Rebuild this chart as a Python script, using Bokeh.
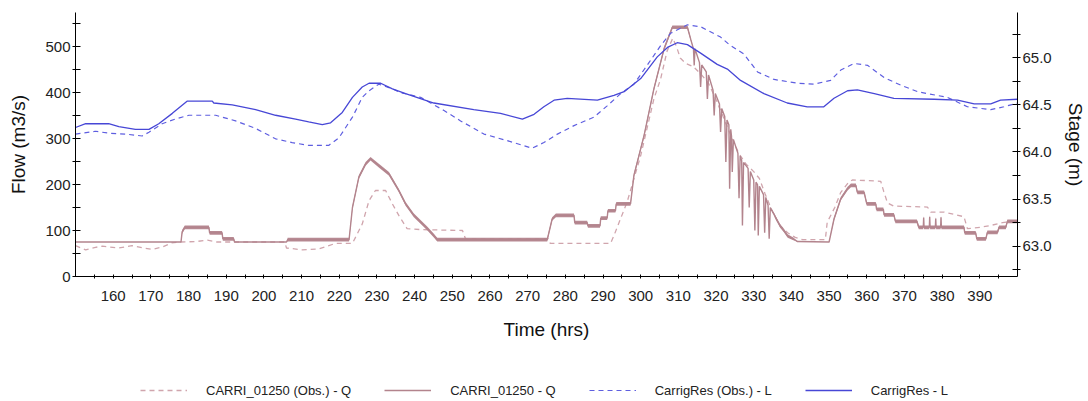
from bokeh.plotting import figure
from bokeh.layouts import column
from bokeh.models import (Range1d, LinearAxis, FixedTicker, Legend, LegendItem,
                          NumeralTickFormatter)
from bokeh.embed import file_html
from bokeh.resources import INLINE

# ---------------- data ----------------
# CARRI_01250 (Obs.) - Q   [m3/s]
obs_q_time = [150, 152.7, 155.0, 157.1, 161.5, 165.0, 168.0, 170.4, 173.0, 175.5, 178.0, 182.0,
              185.0, 187.5, 205.5, 206.0, 210.2, 214.6, 219.0, 223.5, 226.1, 227.9, 229.6, 232.3,
              234.1, 235.8, 238.0, 241.6, 252.7, 253.5, 275.5, 276.0, 292.0, 292.9, 296.4, 300.0,
              303.5, 305.3, 307.0, 308.5, 309.5, 310.5, 312.0, 314.0, 316.0, 318.0, 320.0, 322.0,
              324.0, 326.0, 328.0, 330.0, 331.5, 333.0, 335.0, 337.0, 339.0, 341.0, 343.0, 349.0,
              349.5, 351.5, 353.1, 355.0, 356.2, 363.7, 364.5, 365.5, 367.2, 376.1, 377.0, 380.5,
              385.8, 386.7, 390.2, 392.9, 396.0, 400.0]
obs_q_flow = [67, 58, 63, 66, 62, 67, 62, 59, 64, 73, 75, 76,
              79, 75, 75, 62, 58, 60, 72, 72, 114, 165, 187, 187,
              158, 133, 104, 102, 100, 82, 82, 72, 72, 89, 162, 263,
              386, 430, 490, 518, 500, 475, 463, 456, 440, 420, 385, 345,
              305, 268, 244, 228, 213, 180, 140, 110, 95, 85, 80, 80,
              118, 150, 183, 203, 210, 207, 185, 160, 153, 151, 140, 140,
              130, 104, 107, 111, 117, 122]

# CARRI_01250 - Q   [m3/s]  (sim_q_osc = half-range of the model's rapid oscillation)
sim_q_time = [150, 178.0, 178.3, 179.0, 185.4, 185.6, 188.9, 189.1, 192.0, 192.2, 206.0, 206.3,
              222.6, 223.5, 225.2, 227.0, 228.3, 230.5, 233.2, 235.8, 237.6, 239.8, 243.4, 245.1,
              246.0, 275.2, 276.5, 277.5, 282.3, 282.5, 285.8, 286.0, 289.2, 289.4, 291.1, 291.3,
              293.3, 293.5, 297.3, 298.2, 300.9, 303.5, 306.2, 308.4, 312.4, 313.3,
              314.0, 314.2, 314.4, 315.6, 315.9, 316.2, 317.4, 317.7, 318.0, 319.2, 319.5, 319.8,
              320.9, 321.2, 321.5, 322.3, 322.6, 322.9, 323.4, 323.6, 323.9, 324.1, 324.3, 324.6,
              325.8, 326.1, 326.4, 326.8, 327.0, 327.3, 328.5, 328.8, 329.1, 330.0, 330.3, 330.6,
              331.0, 331.2, 331.5, 332.6, 332.9, 333.2, 333.8, 334.1, 334.4, 335.4,
              336.0, 337.0, 338.0, 339.0, 340.5, 341.6, 350.0, 351.3, 353.1, 354.9, 355.8, 357.1,
              357.5, 359.3, 360.0, 362.4, 362.6, 364.4, 364.6, 367.2, 367.6, 373.3, 373.8,
              375.0, 375.1, 375.2, 376.6, 376.7, 376.8, 378.2, 378.3, 378.4, 379.6, 379.7, 379.8,
              385.8, 386.0, 388.9, 389.2, 391.6, 392.0, 394.7, 395.1, 396.9, 397.3, 400.0]
sim_q_flow = [75, 75, 97, 107, 107, 95, 95, 82, 82, 75, 75, 80,
              80, 150, 216, 245, 256, 241, 223, 187, 158, 133, 104, 89,
              80, 80, 125, 133, 133, 117, 117, 110, 110, 127, 127, 143,
              143, 158, 158, 220, 307, 408, 495, 542, 542, 515,
              495, 459, 495, 465, 412, 460, 445, 386, 438, 405, 350, 398,
              375, 314, 365, 348, 249, 340, 330, 191, 320, 305, 227, 298,
              268, 170, 262, 252, 111, 248, 235, 150, 228, 210, 100, 205,
              200, 89, 196, 178, 95, 172, 155, 82, 150, 135,
              125, 110, 100, 88, 82, 76, 75, 125, 169, 191, 198, 198,
              183, 183, 158, 158, 146, 146, 134, 134, 120, 120, 107,
              107, 128, 107, 107, 130, 107, 107, 126, 107, 107, 129, 107,
              107, 95, 95, 82, 82, 96, 96, 107, 107, 120, 120]
sim_q_osc = [0, 0, 4, 4, 4, 4, 4, 4, 4, 0, 0, 4,
             4, 4, 4, 4, 4, 4, 4, 4, 4, 4, 4, 4,
             4, 4, 4, 4, 4, 4, 4, 4, 4, 4, 4, 4,
             4, 4, 4, 4, 4, 4, 4, 4, 4, 3,
             0, 0, 0, 0, 0, 0, 0, 0, 0, 0, 0, 0,
             0, 0, 0, 0, 0, 0, 0, 0, 0, 0, 0, 0,
             0, 0, 0, 0, 0, 0, 0, 0, 0, 0, 0, 0,
             0, 0, 0, 0, 0, 0, 0, 0, 0, 3,
             4, 4, 4, 4, 3, 0, 0, 4, 4, 4, 4, 4,
             4, 4, 4, 4, 4, 4, 4, 4, 4, 4, 4,
             4, 4, 4, 4, 4, 4, 4, 4, 4, 4, 4, 4,
             4, 4, 4, 4, 4, 4, 4, 4, 4, 4, 4]

# CarrigRes (Obs.) - L   [m]
obs_l_time = [150, 155.3, 158.8, 163.3, 167.7, 169.5, 173.0, 176.5, 180.1, 187.2, 192.5, 197.8,
              203.1, 207.5, 211.9, 217.2, 219.9, 223.5, 226.1, 227.9, 230.5, 234.1, 236.3, 241.6,
              247.8, 252.2, 258.4, 264.6, 271.2, 274.3, 277.9, 282.3, 287.6, 291.1, 294.7, 298.2,
              301.7, 305.3, 307.9, 312.4, 315.9, 321.2, 323.5, 327.4, 331.0, 335.4, 341.6, 346.0,
              350.4, 353.1, 356.6, 360.2, 364.6, 369.0, 373.5, 381.4, 386.7, 392.9, 396.4, 400.0]
obs_l_stage = [64.19, 64.22, 64.20, 64.19, 64.17, 64.21, 64.30, 64.35, 64.39, 64.39, 64.33, 64.25,
               64.14, 64.10, 64.07, 64.07, 64.15, 64.37, 64.58, 64.65, 64.72, 64.67, 64.63, 64.58,
               64.44, 64.33, 64.19, 64.12, 64.04, 64.10, 64.19, 64.28, 64.37, 64.49, 64.62, 64.72,
               64.92, 65.13, 65.26, 65.35, 65.33, 65.22, 65.14, 65.04, 64.85, 64.77, 64.73, 64.72,
               64.76, 64.87, 64.94, 64.92, 64.79, 64.71, 64.64, 64.58, 64.48, 64.45, 64.48, 64.52]

# CarrigRes - L   [m]
sim_l_time = [150, 152.7, 158.8, 161.5, 165.9, 169.5, 172.1, 175.7, 179.6, 186.3, 186.7, 191.6,
              197.8, 203.1, 208.4, 211.9, 215.5, 217.7, 220.8, 223.5, 226.1, 227.9, 231.0, 234.1,
              237.6, 245.1, 255.7, 262.8, 268.6, 271.7, 274.3, 277.0, 280.5, 288.5, 292.9, 295.6,
              300.0, 304.4, 307.1, 309.7, 312.4, 315.9, 320.3, 323.0, 326.5, 332.7, 338.9, 344.2,
              348.6, 351.3, 354.9, 357.5, 362.0, 367.2, 377.9, 384.1, 388.5, 392.9, 395.5, 400.0]
sim_l_stage = [64.26, 64.30, 64.30, 64.27, 64.24, 64.24, 64.30, 64.41, 64.54, 64.54, 64.52, 64.50,
               64.45, 64.39, 64.35, 64.32, 64.29, 64.31, 64.42, 64.58, 64.69, 64.73, 64.73, 64.67,
               64.62, 64.52, 64.45, 64.41, 64.35, 64.40, 64.48, 64.55, 64.57, 64.55, 64.60, 64.64,
               64.78, 65.01, 65.11, 65.16, 65.14, 65.05, 64.93, 64.88, 64.76, 64.62, 64.52, 64.48,
               64.48, 64.57, 64.65, 64.66, 64.62, 64.57, 64.56, 64.55, 64.51, 64.51, 64.55, 64.56]

series_labels = ["CARRI_01250 (Obs.) - Q", "CARRI_01250 - Q",
                 "CarrigRes (Obs.) - L", "CarrigRes - L"]
time_ticks = list(range(160, 400, 10))
flow_ticks = [0, 100, 200, 300, 400, 500]
stage_ticks = [63.0, 63.5, 64.0, 64.5, 65.0]

# ---------------- styles ----------------
FONT = "Liberation Sans"
BLUE = "#4747d6"
BLUE_D = "#5e5ee0"
PINK = "#b3848d"
PINK_D = "#d0a5ad"
styles = [dict(line_color=PINK_D, line_width=1.3, line_dash="5 4"),
          dict(line_color=PINK, line_width=1.4),
          dict(line_color=BLUE_D, line_width=1.2, line_dash="5 4"),
          dict(line_color=BLUE, line_width=1.3)]

# ---------------- main chart ----------------
p = figure(width=1088, height=346, output_backend="svg", toolbar_location=None,
           x_range=Range1d(150, 400), y_range=Range1d(0, 574),
           min_border_left=75, min_border_right=70, min_border_top=12, min_border_bottom=70)
p.extra_y_ranges = {"stage": Range1d(62.678, 65.481)}
p.outline_line_color = None
p.grid.visible = False

p.line(obs_q_time, obs_q_flow, **styles[0])
lo = [q - a for q, a in zip(sim_q_flow, sim_q_osc)]
hi = [q + a for q, a in zip(sim_q_flow, sim_q_osc)]
p.varea(x=sim_q_time, y1=lo, y2=hi, fill_color=PINK, fill_alpha=0.95)
p.line(sim_q_time, sim_q_flow, **styles[1])
p.line(obs_l_time, obs_l_stage, y_range_name="stage", **styles[2])
p.line(sim_l_time, sim_l_stage, y_range_name="stage", **styles[3])

right = LinearAxis(y_range_name="stage")
p.add_layout(right, "right")

xa = p.xaxis[0]
ya = p.yaxis[0]
for ax in (xa, ya, right):
    ax.axis_line_color = "black"
    ax.axis_line_width = 1
    ax.major_tick_line_color = "black"
    ax.minor_tick_line_color = "black"
    ax.major_label_text_font = FONT
    ax.major_label_text_font_size = "15px"
    ax.major_label_text_color = "#222222"
    ax.axis_label_text_font = FONT
    ax.axis_label_text_font_size = "19px"
    ax.axis_label_text_font_style = "normal"
    ax.axis_label_text_color = "#111111"

xa.ticker = FixedTicker(ticks=time_ticks,
                        minor_ticks=[t + 5 for t in [150] + time_ticks])
xa.axis_label = "Time (hrs)"
xa.major_tick_in = 2
xa.major_tick_out = 2
xa.minor_tick_in = 2
xa.minor_tick_out = 2
xa.major_label_standoff = 12
xa.axis_label_standoff = 15

ya.ticker = FixedTicker(ticks=flow_ticks, minor_ticks=[f + 50 for f in flow_ticks])
ya.axis_label = "Flow (m3/s)"
ya.major_tick_in = 5
ya.major_tick_out = 3
ya.minor_tick_in = 5
ya.minor_tick_out = 3
ya.major_label_standoff = 2
ya.axis_label_standoff = 13

right.ticker = FixedTicker(ticks=stage_ticks,
                           minor_ticks=[s - 0.25 for s in stage_ticks] + [65.25])
right.formatter = NumeralTickFormatter(format="0.0")
right.axis_label = "Stage (m)"
right.major_tick_in = 5
right.major_tick_out = 3
right.minor_tick_in = 5
right.minor_tick_out = 3
right.major_label_standoff = 2
right.axis_label_standoff = 10

# ---------------- legend strip ----------------
lg = figure(width=1088, height=55, output_backend="svg", toolbar_location=None,
            x_range=Range1d(0, 1), y_range=Range1d(0, 1),
            x_axis_location=None, y_axis_location=None,
            min_border_left=0, min_border_right=0, min_border_top=0, min_border_bottom=0)
lg.outline_line_color = None
lg.grid.visible = False
items = []
for lab, st in zip(series_labels, styles):
    # legend key only: a single point outside the strip's range draws nothing itself
    r = lg.line([5], [5], **st)
    items.append(LegendItem(label=lab, renderers=[r]))
legend = Legend(items=items, orientation="horizontal", location=(65, 1))
legend.label_text_font = FONT
legend.label_text_font_size = "13px"
legend.label_text_color = "#222222"
legend.glyph_width = 47
legend.glyph_height = 20
legend.label_height = 20
legend.label_standoff = 19
legend.spacing = 33
legend.padding = 0
legend.margin = 0
legend.border_line_color = None
legend.background_fill_alpha = 0
lg.add_layout(legend, "center")

open("out.html", "w").write(file_html(column(p, lg, spacing=0), INLINE))
